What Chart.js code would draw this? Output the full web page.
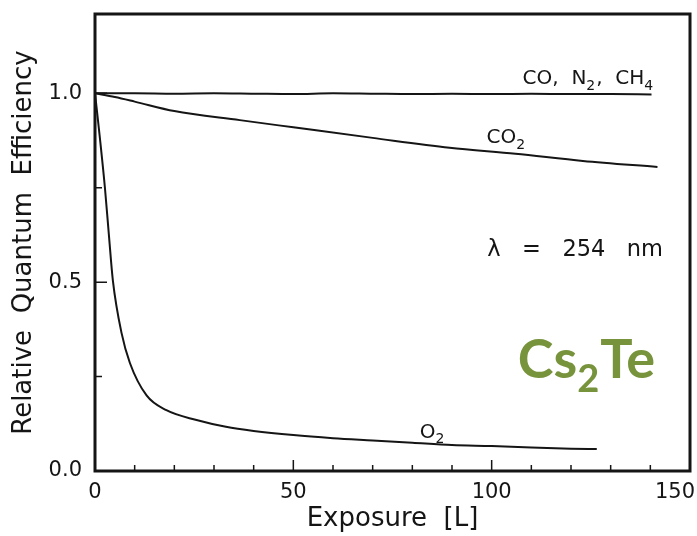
<!DOCTYPE html>
<html>
<head>
<meta charset="utf-8">
<script src="https://cdn.jsdelivr.net/npm/chart.js@4.4.1/dist/chart.umd.min.js"></script>
<style>
  html, body { margin: 0; padding: 0; background: #fff; }
  #wrap { width: 697px; height: 536px; }
</style>
</head>
<body>
<div id="wrap"><canvas id="c" width="697" height="536"></canvas></div>
<script>
// data
var gasX = [0, 10, 20, 30, 40, 50, 60, 70, 80, 90, 100, 110, 120, 130, 140.3];
var gasY = [1.0, 1.0, 0.999, 1.0, 0.999, 0.998, 1.0, 0.999, 0.998, 0.999, 0.998, 0.999, 0.998, 0.998, 0.997];

var co2X = [0, 5, 10, 20, 36.5, 50, 70, 89.4, 106, 123, 141.8];
var co2Y = [1.0, 0.99, 0.978, 0.953, 0.929, 0.91, 0.882, 0.856, 0.84, 0.821, 0.805];

var o2X = [0, 1.2, 2.5, 3.5, 4.5, 6.7, 8.8, 13, 18, 25.6, 33, 40, 50, 60, 70, 80, 90, 100, 110, 120, 126.5];
var o2Y = [1.0, 0.885, 0.75, 0.625, 0.505, 0.365, 0.286, 0.2, 0.161, 0.135, 0.117, 0.106, 0.095, 0.087, 0.081, 0.075, 0.069, 0.066, 0.062, 0.059, 0.058];

var xTickLabels = [0, 50, 100, 150];
var yTickLabels = [0.0, 0.5, 1.0];

var FONT = '"DejaVu Sans", Verdana, sans-serif';
var INK = '#151515';

function pts(xs, ys) {
    return xs.map(function(x, i) { return {x: x, y: ys[i]}; });
}

function curve(xs, ys) {
    return {
        data: pts(xs, ys),
        showLine: true,
        borderColor: INK,
        borderWidth: 2,
        pointRadius: 0,
        cubicInterpolationMode: 'monotone'
    };
}

//text pieces, sub = subscript
var notes = [
    {x: 107.8, y: 1.024, size: 20, parts: [{t: 'CO,  N'}, {t: '2', sub: true}, {t: ',  CH'}, {t: '4', sub: true}]},
    {x: 98.7, y: 0.868, size: 20, parts: [{t: 'CO'}, {t: '2', sub: true}]},
    {x: 81.9, y: 0.088, size: 20, parts: [{t: 'O'}, {t: '2', sub: true}]},
    {x: 98.9, y: 0.569, size: 22.5, parts: [{t: '\u03bb   =   254   nm'}]}
];

function drawParts(ctx, parts, x, y, size, weight, color, family) {
    ctx.fillStyle = color;
    ctx.textBaseline = 'alphabetic';
    ctx.textAlign = 'left';
    parts.forEach(function(p) {
        var s = p.sub ? Math.round(size * 0.7) : size;
        ctx.font = weight + ' ' + s + 'px ' + (family || FONT);
        ctx.fillText(p.t, x, p.sub ? y + size * 0.27 : y);
        x += ctx.measureText(p.t).width + (p.sub ? 1 : 0);
    });
}

var frame = {
    id: 'frame',
    afterDraw: function(chart) {
        var ctx = chart.ctx;
        var a = chart.chartArea;
        var xs = chart.scales.x, ys = chart.scales.y;
        ctx.save();

        //box
        ctx.strokeStyle = INK;
        ctx.lineWidth = 3;
        ctx.strokeRect(a.left, a.top, a.right - a.left, a.bottom - a.top);

        //inward ticks
        ctx.lineWidth = 1.5;
        ctx.beginPath();
        xs.ticks.forEach(function(t) {
            if (t.value % 10 !== 0) return;
            var px = xs.getPixelForValue(t.value);
            var len = (t.value % 50 === 0) ? 11 : 6;
            ctx.moveTo(px, a.bottom);
            ctx.lineTo(px, a.bottom - len);
        });
        ys.ticks.forEach(function(t) {
            var v = Math.round(t.value * 100);
            if (v % 25 !== 0) return;
            var py = ys.getPixelForValue(t.value);
            var len = (v % 50 === 0) ? 12 : 7;
            ctx.moveTo(a.left, py);
            ctx.lineTo(a.left + len, py);
        });
        ctx.stroke();

        //x labels, kept inside the canvas
        ctx.font = '21px ' + FONT;
        ctx.fillStyle = INK;
        ctx.textBaseline = 'alphabetic';
        ctx.textAlign = 'center';
        xTickLabels.forEach(function(v) {
            var px = xs.getPixelForValue(v);
            var w = ctx.measureText(String(v)).width;
            px = Math.min(px, chart.width - 2 - w / 2);
            ctx.fillText(String(v), px, a.bottom + 27);
        });

        notes.forEach(function(n) {
            drawParts(ctx, n.parts, xs.getPixelForValue(n.x), ys.getPixelForValue(n.y), n.size, 'normal', INK);
        });

        //material label
        var cx = xs.getPixelForValue(106.6), cy = ys.getPixelForValue(0.247);
        drawParts(ctx, [{t: 'Cs'}, {t: '2', sub: true}, {t: 'Te'}], cx, cy, 54, 'bold', '#77933c', 'Lato, "Open Sans", sans-serif');

        ctx.restore();
    }
};

new Chart(document.getElementById('c'), {
    type: 'scatter',
    data: {
        datasets: [curve(gasX, gasY), curve(co2X, co2Y), curve(o2X, o2Y)]
    },
    options: {
        responsive: false,
        animation: false,
        layout: {padding: {top: 14, right: 7, left: 0, bottom: 0}},
        plugins: {legend: {display: false}, tooltip: {enabled: false}},
        scales: {
            x: {
                type: 'linear',
                min: 0,
                max: 150,
                grid: {display: false, drawTicks: false},
                border: {display: false},
                ticks: {display: false, stepSize: 10},
                title: {
                    display: true,
                    text: 'Exposure  [L]',
                    color: INK,
                    font: {family: FONT, size: 26},
                    padding: {top: 0, bottom: 1}
                },
                afterFit: function(s) {
                    s.height = 65;
                    s.paddingLeft = 0;
                    s.paddingRight = 0;
                }
            },
            y: {
                type: 'linear',
                min: 0,
                max: 1.21,
                grid: {display: false, drawTicks: false},
                border: {display: false},
                ticks: {
                    stepSize: 0.25,
                    padding: 13,
                    color: INK,
                    font: {family: FONT, size: 21},
                    callback: function(v) {
                        var k = Math.round(v * 100);
                        return (k % 50 === 0 && yTickLabels.indexOf(k / 100) >= 0) ? (k / 100).toFixed(1) : '';
                    }
                },
                title: {
                    display: true,
                    text: 'Relative  Quantum  Efficiency',
                    color: INK,
                    font: {family: FONT, size: 26},
                    padding: {top: 9, bottom: 0}
                },
                afterFit: function(s) {
                    s.width = 95;
                    s.paddingTop = 0;
                    s.paddingBottom = 0;
                }
            }
        }
    },
    plugins: [frame]
});
</script>
</body>
</html>
